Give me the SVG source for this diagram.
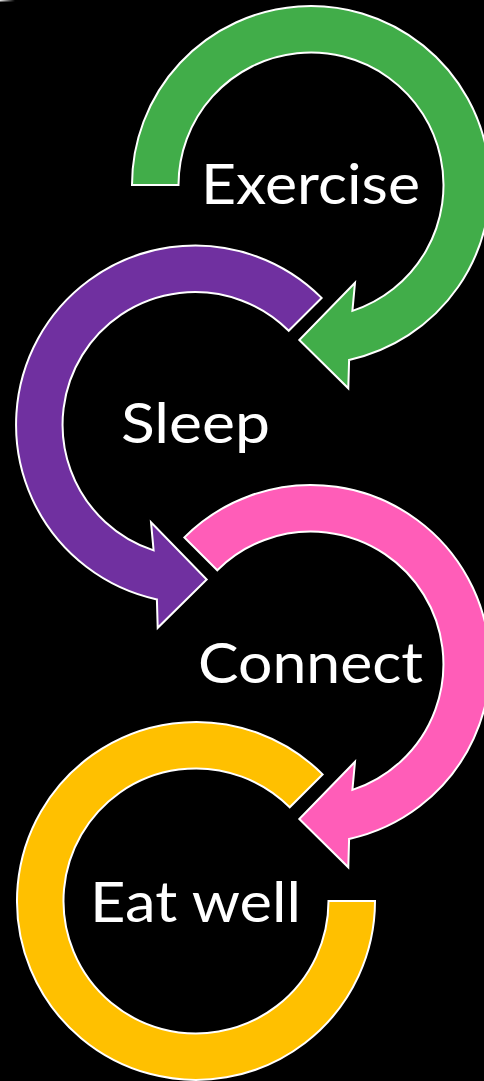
<svg xmlns="http://www.w3.org/2000/svg" width="484" height="1081" viewBox="0 0 484 1081">
  <defs>
    <linearGradient id="edgeFade" x1="0" y1="0" x2="1" y2="0">
      <stop offset="0" stop-color="#ffffff" stop-opacity="0.9"/>
      <stop offset="1" stop-color="#ffffff" stop-opacity="0"/>
    </linearGradient>
  </defs>
  <style>
    .arrow { stroke: #ffffff; stroke-width: 2; stroke-linejoin: miter; }
    .green { fill: #41AD49; }
    .purple { fill: #7030A0; }
    .pink { fill: #FF5DB8; }
    .gold { fill: #FFC000; }
    .label { fill: #ffffff; font-family: "Lato", "Liberation Sans", sans-serif; font-size: 57px; }
  </style>
  <rect x="0" y="0" width="484" height="1081" fill="#000000"/>
  <rect x="0" y="0" width="15" height="1.5" fill="url(#edgeFade)"/>

  <g id="connectors"></g>

  <g id="node-sleep">
    <path class="arrow purple" d="M321.6,297.9 A179,179 0 1 0 156.9,599.4 L157.7,627.8 L206.7,579.5 L151,522.2 L153.6,550.4 A132.5,132.5 0 1 1 288.7,330.8 Z"/>
    <text class="label" x="121" y="443" textLength="149" lengthAdjust="spacingAndGlyphs">Sleep</text>
  </g>

  <g id="node-exercise">
    <path class="arrow green" d="M132,185 A179,179 0 1 1 349.1,359.9 L348.3,388.3 L299.3,340 L355,282.7 L352.4,310.9 A132.5,132.5 0 1 0 178.5,185 Z"/>
    <text class="label" x="201" y="204" textLength="219" lengthAdjust="spacingAndGlyphs">Exercise</text>
  </g>

  <g id="node-eatwell">
    <path class="arrow gold" d="M322.6,774.4 A179,179 0 1 0 375,901 L328.5,901 A132.5,132.5 0 1 1 289.7,807.3 Z"/>
    <text class="label" x="90" y="922" textLength="211" lengthAdjust="spacingAndGlyphs">Eat well</text>
  </g>

  <g id="node-connect">
    <path class="arrow pink" d="M184.4,537.4 A179,179 0 1 1 349.1,838.9 L348.3,867.3 L299.3,819 L355,761.7 L352.4,789.9 A132.5,132.5 0 1 0 217.3,570.3 Z"/>
    <text class="label" x="198" y="683" textLength="225" lengthAdjust="spacingAndGlyphs">Connect</text>
  </g>
</svg>
